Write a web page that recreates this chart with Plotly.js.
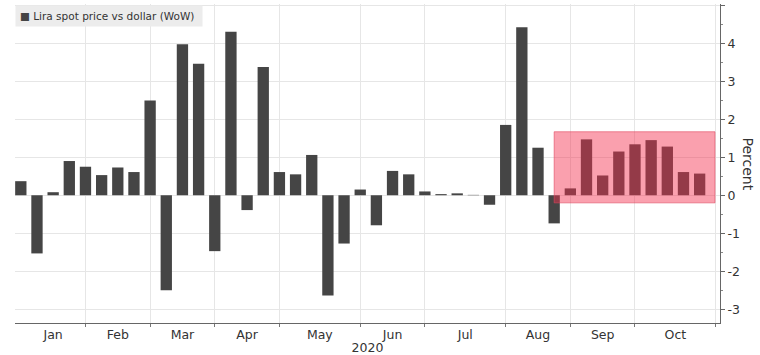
<!DOCTYPE html>
<html>
<head>
<meta charset="utf-8">
<script src="https://cdn.plot.ly/plotly-3.0.1.min.js"></script>
<style>
  html, body { margin: 0; padding: 0; background: #fff; }
  #chart { width: 760px; height: 355px; }
</style>
</head>
<body>
<div id="chart"></div>
<script>
// Weekly observation dates (Fridays, 2020)
const weeks = [
  "2020-01-03","2020-01-10","2020-01-17","2020-01-24","2020-01-31",
  "2020-02-07","2020-02-14","2020-02-21","2020-02-28",
  "2020-03-06","2020-03-13","2020-03-20","2020-03-27",
  "2020-04-03","2020-04-10","2020-04-17","2020-04-24",
  "2020-05-01","2020-05-08","2020-05-15","2020-05-22","2020-05-29",
  "2020-06-05","2020-06-12","2020-06-19","2020-06-26",
  "2020-07-03","2020-07-10","2020-07-17","2020-07-24","2020-07-31",
  "2020-08-07","2020-08-14","2020-08-21","2020-08-28",
  "2020-09-04","2020-09-11","2020-09-18","2020-09-25",
  "2020-10-02","2020-10-09","2020-10-16","2020-10-23"
];

// Lira spot price vs dollar, week-on-week change (%)
const liraWoW = [
  0.37, -1.53, 0.08, 0.90, 0.75,
  0.53, 0.73, 0.61, 2.49,
  -2.50, 3.97, 3.46, -1.47,
  4.30, -0.39, 3.37, 0.61,
  0.55, 1.06, -2.64, -1.27, 0.15,
  -0.79, 0.64, 0.55, 0.10,
  0.03, 0.05, 0.01, -0.25, 1.85,
  4.42, 1.25, -0.74, 0.18,
  1.47, 0.52, 1.15, 1.34,
  1.45, 1.28, 0.61, 0.57
];

const monthNames = ["Jan","Feb","Mar","Apr","May","Jun","Jul","Aug","Sep","Oct"];
const yTickVals = [-3, -2, -1, 0, 1, 2, 3, 4, 5];
const yTickText = ["-3", "-2", "-1", "0", "1", "2", "3", "4", ""];
const seriesName = "Lira spot price vs dollar (WoW)";
const yearLabel = "2020";
const yTitle = "Percent";

// Week index on the x axis
const xIdx = weeks.map((_, i) => i);
const DAY = 86400000;
const t0 = Date.parse(weeks[0] + "T00:00:00Z");

// Month boundaries at the last Friday of each month (as week index)
const boundaries = monthNames.map((m, mi) => {
  const lastDay = Date.UTC(2020, mi + 1, 0);
  const dow = new Date(lastDay).getUTCDay(); // 5 = Friday
  const lastFri = lastDay - ((dow - 5 + 7) % 7) * DAY;
  return Math.round((lastFri - t0) / (7 * DAY));
});
const labelPos = boundaries.map((b, i) => ((i === 0 ? 0 : boundaries[i - 1]) + b) / 2);

const FONT = "DejaVu Sans, sans-serif";

const trace = {
  type: "bar",
  x: xIdx,
  y: liraWoW,
  customdata: weeks,
  hovertemplate: "%{customdata}: %{y:.2f}%<extra></extra>",
  name: seriesName,
  marker: { color: "#454545" },
  width: 0.7,
  showlegend: false
};

const layout = {
  width: 760,
  height: 355,
  margin: { l: 15, r: 40, t: 4, b: 32 },
  paper_bgcolor: "#ffffff",
  plot_bgcolor: "#ffffff",
  font: { family: FONT, size: 12, color: "#333" },
  bargap: 0.3,
  xaxis: {
    range: [-0.36, 43.26],
    tickmode: "array",
    tickvals: labelPos,
    ticktext: monthNames,
    ticks: "",
    showgrid: false,
    zeroline: false,
    showline: true,
    linecolor: "#666",
    linewidth: 1,
    tickfont: { family: FONT, size: 12.5, color: "#333" },
    minor: {
      tickmode: "array",
      tickvals: boundaries,
      ticks: "outside",
      ticklen: 3,
      tickcolor: "#777",
      showgrid: true,
      gridcolor: "#e6e6e6",
      gridwidth: 1
    },
    title: { text: yearLabel, standoff: 2, font: { family: FONT, size: 12.5, color: "#333" } }
  },
  yaxis: {
    side: "right",
    range: [-3.36, 5.03],
    tickmode: "array",
    tickvals: yTickVals,
    ticktext: yTickText,
    ticks: "outside",
    ticklen: 4,
    tickcolor: "#666",
    showline: true,
    linecolor: "#666",
    linewidth: 1,
    showgrid: true,
    gridcolor: "#e6e6e6",
    gridwidth: 1,
    zeroline: false,
    tickfont: { family: FONT, size: 12.5, color: "#333" },
    minor: {
      dtick: 0.5,
      ticks: "outside",
      ticklen: 2,
      tickcolor: "#888",
      showgrid: false
    }
  },
  shapes: [
    {
      type: "rect",
      xref: "x", yref: "y",
      x0: 33.0, x1: 42.95,
      y0: -0.20, y1: 1.67,
      layer: "above",
      fillcolor: "rgba(245,45,75,0.45)",
      line: { color: "rgba(225,70,95,0.6)", width: 1 }
    }
  ],
  annotations: [
    {
      xref: "paper", yref: "paper",
      x: 0, y: 1, xanchor: "left", yanchor: "top",
      yshift: -1,
      text: '<span style="color:#444">■</span> ' + seriesName + ' ',
      showarrow: false,
      bgcolor: "#ececec",
      borderpad: 4,
      font: { family: FONT, size: 10.5, color: "#333" }
    },
    {
      xref: "paper", yref: "paper",
      x: 1, y: 0.5, xanchor: "center", yanchor: "middle",
      xshift: 28,
      text: yTitle,
      textangle: 90,
      showarrow: false,
      font: { family: FONT, size: 14, color: "#333" }
    }
  ]
};

Plotly.newPlot("chart", [trace], layout, { displayModeBar: false, staticPlot: true });
</script>
</body>
</html>
